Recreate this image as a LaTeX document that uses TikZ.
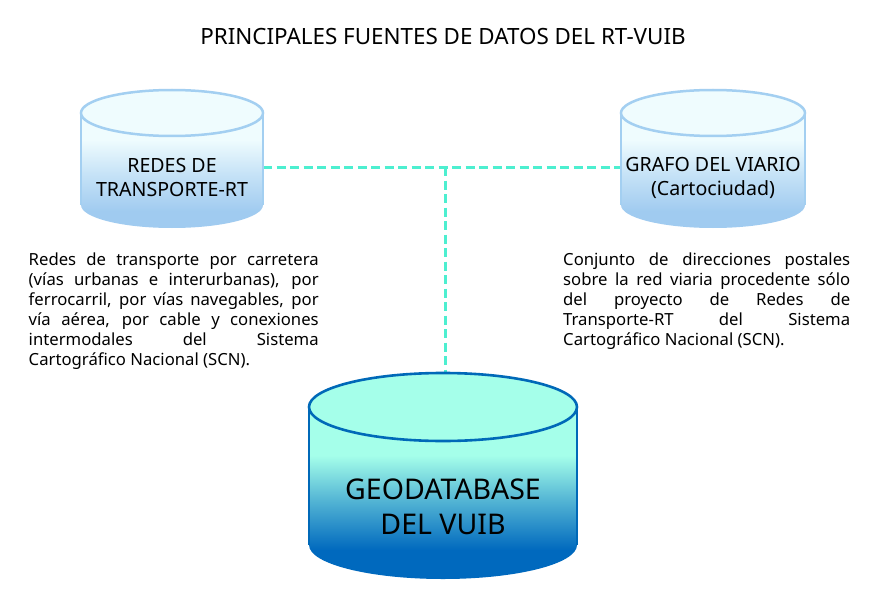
\documentclass[tikz,border=0pt]{standalone}
\usepackage{fontspec}
\setmainfont{Noto Sans}
\definecolor{linkc}{HTML}{4DEFD0}
\definecolor{softedge}{HTML}{A3CFF1}
\definecolor{softtop}{HTML}{EFFCFE}
\definecolor{softbot}{HTML}{A0CBF0}
\definecolor{deepedge}{HTML}{0069B8}
\definecolor{deeptop}{HTML}{A5FFEA}
\definecolor{deepbot}{HTML}{0069BE}
\pgfdeclareverticalshading{softshade}{100bp}{color(0bp)=(softbot); color(31bp)=(softbot); color(45bp)=(softtop!50!softbot); color(57bp)=(softtop); color(100bp)=(softtop)}
\pgfdeclareverticalshading{deepshade}{100bp}{color(0bp)=(deepbot); color(32bp)=(deepbot); color(44bp)=(deeptop!50!deepbot); color(55bp)=(deeptop); color(100bp)=(deeptop)}
\tikzset{
  softbody/.style={shading=softshade},
  deepbody/.style={shading=deepshade},
  softrim/.style={draw=softedge,line width=2.5pt},
  softcap/.style={softrim,fill=softtop},
  deeprim/.style={draw=deepedge,line width=2.6pt},
  deepcap/.style={deeprim,fill=deeptop},
  link/.style={draw=linkc,line width=3pt,dash pattern=on 9pt off 4.5pt},
  cyltext/.style={align=center,font=\fontsize{19.6}{24}\selectfont,text=black,inner sep=0pt},
  desc/.style={align=justify,text width=290pt,font=\fontsize{16.7}{20}\selectfont,inner sep=0pt,anchor=north west,text=black},
}
\newcommand{\cylinderat}[8]{% cx, half width, top y, ry, bottom side y, body, rim, cap
  \path[#6] (#1-#2,#3) -- (#1-#2,#5) arc[start angle=180,end angle=0,x radius=#2,y radius=#4] -- (#1+#2,#3) arc[start angle=0,end angle=-180,x radius=#2,y radius=#4] -- cycle;
  \draw[#7] (#1-#2,#5) -- (#1-#2,#3) (#1+#2,#5) -- (#1+#2,#3);
  \path[#8] (#1,#3) ellipse[x radius=#2,y radius=#4];
}
\begin{document}
\begin{tikzpicture}[x=1pt,y=-1pt]
\useasboundingbox (0,0) rectangle (874,604);
\fill[white] (0,0) rectangle (874,604);
\hfuzz=20pt \hbadness=10000

\node[inner sep=0pt,font=\fontsize{22.4}{26}\selectfont] (title) at (443,36) {PRINCIPALES FUENTES DE DATOS DEL RT-VUIB};

\coordinate (redesE) at (263,167);
\coordinate (grafoW) at (621,167);
\coordinate (junction) at (445,167);
\coordinate (geoN) at (445,373);
\draw[link] (redesE) -- (grafoW);
\draw[link] (junction) -- (geoN);

\cylinderat{172}{91}{113}{23}{205}{softbody}{softrim}{softcap}
\cylinderat{713}{92}{113}{23}{205}{softbody}{softrim}{softcap}
\cylinderat{443}{134}{407}{34}{545}{deepbody}{deeprim}{deepcap}

\node[cyltext] (redes) at (172,178) {REDES DE\\TRANSPORTE-RT};
\node[cyltext] (grafo) at (713,178) {GRAFO DEL VIARIO\\(Cartociudad)};
\node[cyltext,font=\fontsize{28.5}{34.5}\selectfont] (geo) at (443,507) {GEODATABASE\\DEL VUIB};

\node[desc] (descredes) at (28.5,253) {Redes de transporte por carretera\linebreak (vías urbanas e interurbanas), por\linebreak ferrocarril, por vías navegables, por\linebreak vía aérea, por cable y conexiones\linebreak intermodales del Sistema\linebreak Cartográfico Nacional (SCN).};
\node[desc,text width=287pt] (descgrafo) at (563,253) {Conjunto de direcciones postales\linebreak sobre la red viaria procedente sólo\linebreak del proyecto de Redes de\linebreak Transporte-RT del Sistema\linebreak Cartográfico Nacional (SCN).};
\end{tikzpicture}
\end{document}
